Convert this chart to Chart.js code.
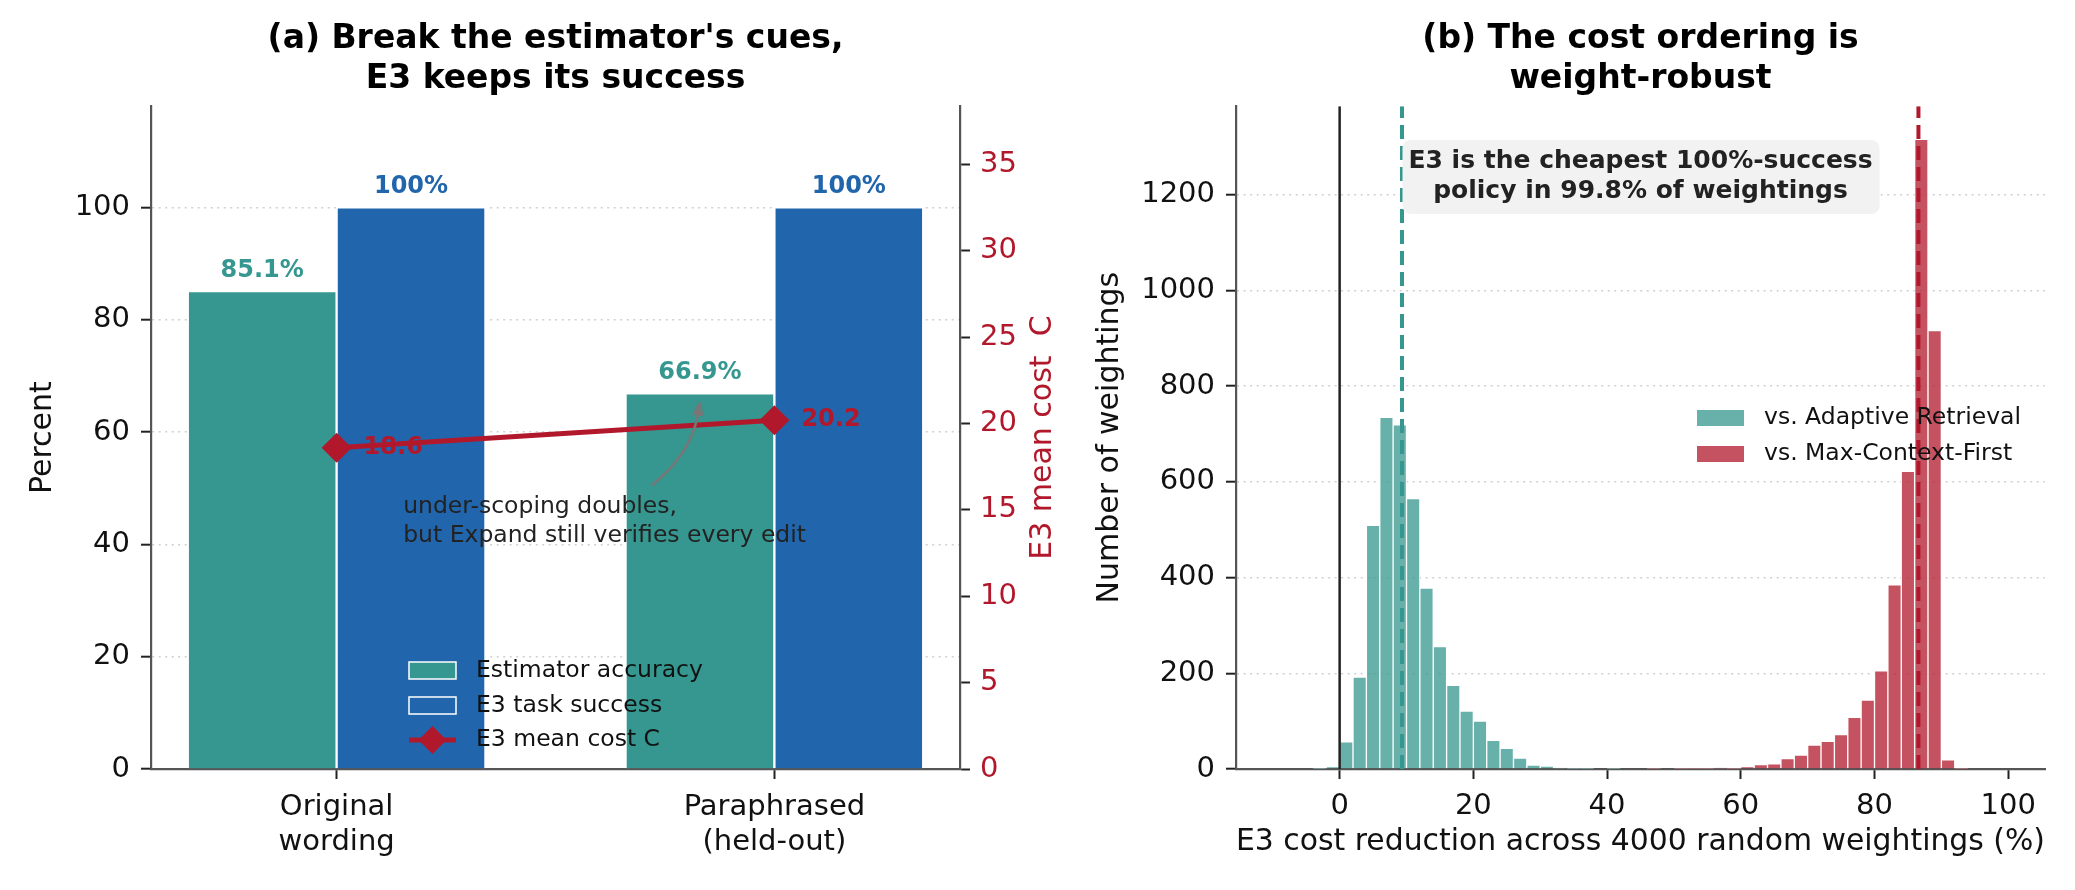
<!DOCTYPE html>
<html lang="en">
  <head>
    <meta charset="utf-8">
    <script src="https://cdn.jsdelivr.net/npm/chart.js"></script>
    <title>E3 robustness</title>
    <style>
      body { margin: 0; background: #fff; }
      #wrap { position: relative; width: 2075px; height: 890px; }
      canvas { position: absolute; top: 0; }
      #left { left: 0; }
      #right { left: 1075px; }
    </style>
  </head>
  <body>
    <div id="wrap">
      <canvas id="left" width="1075" height="890"></canvas>
      <canvas id="right" width="1000" height="890"></canvas>
    </div>
  <script>
    // ---- panel (a) data ----
    const conditions = [['Original', 'wording'], ['Paraphrased', '(held-out)']];
    const estimatorAccuracy = [85.1, 66.9];
    const taskSuccess = [100, 100];
    const meanCost = [18.6, 20.2];
    const percentTicks = [0, 20, 40, 60, 80, 100];
    const costTicks = [0, 5, 10, 15, 20, 25, 30, 35];

    // ---- panel (b) data: histogram bins of width 2, given by their centres ----
    const binCentres = [-9, -7, -5, -3, -1, 1, 3, 5, 7, 9, 11, 13, 15, 17, 19, 21, 23, 25, 27, 29,
      31, 33, 35, 37, 39, 41, 43, 45, 47, 49, 51, 53, 55, 57, 59, 61, 63, 65, 67, 69,
      71, 73, 75, 77, 79, 81, 83, 85, 87, 89, 91, 93, 95, 97, 99];
    const vsAdaptive = [0, 0, 0, 1, 4, 57, 192, 509, 735, 719, 565, 378, 256, 175, 121, 100, 60, 43, 23, 8,
      6, 2, 1, 1, 0, 1, 0, 0, 0, 0, 0, 0, 0, 0, 0, 0, 0, 0, 0, 0,
      0, 0, 0, 0, 0, 0, 0, 0, 0, 0, 0, 0, 0, 0, 0];
    const vsMaxContext = [0, 0, 0, 0, 0, 0, 0, 0, 0, 0, 0, 0, 0, 0, 0, 0, 0, 0, 0, 0,
      0, 0, 0, 0, 0, 0, 0, 0, 1, 0, 1, 1, 1, 2, 1, 4, 9, 11, 22, 29,
      50, 58, 72, 108, 144, 205, 385, 622, 1316, 916, 19, 1, 0, 0, 0];
    const medianAdaptive = 9.33;
    const medianMaxContext = 86.57;
    const reductionTicks = [0, 20, 40, 60, 80, 100];
    const countTicks = [0, 200, 400, 600, 800, 1000, 1200];

    const TEAL = '#35978f', BLUE = '#2166ac', RED = '#b2182b';
    const TEAL_A = 'rgba(53,151,143,0.75)', RED_A = 'rgba(178,24,43,0.75)';
    const FONT = '"DejaVu Sans", sans-serif';
    Chart.defaults.font.family = FONT;
    Chart.defaults.color = '#111';

    const BAR_W = 0.34;
    const COUNT_MAX = 1385;

    const fixedTicks = values => scale => { scale.ticks = values.map(v => ({value: v})); };
    const fixWidth = w => scale => { scale.width = w; };
    const fixHeight = h => scale => { scale.height = h; };
    const plain = v => String(v);

    const spine = {color: '#555', width: 2.2};
    const tickMarks = {tickLength: 10, tickWidth: 2, tickColor: '#222'};
    const dotted = {color: '#d0d0d0', lineWidth: 1.4, ...tickMarks};
    const titleFont = {size: 33, weight: 'bold', lineHeight: 1.2};

    function roundBox(ctx, x, y, w, h, r) {
      ctx.beginPath();
      ctx.moveTo(x + r, y);
      ctx.arcTo(x + w, y, x + w, y + h, r);
      ctx.arcTo(x + w, y + h, x, y + h, r);
      ctx.arcTo(x, y + h, x, y, r);
      ctx.arcTo(x, y, x + w, y, r);
      ctx.closePath();
    }

    function diamond(ctx, x, y, r) {
      ctx.beginPath();
      ctx.moveTo(x, y - r); ctx.lineTo(x + r, y); ctx.lineTo(x, y + r); ctx.lineTo(x - r, y);
      ctx.closePath();
      ctx.fill();
    }

    // labels, annotation and legend for panel (a)
    const panelA = {
      id: 'panelA',
      afterDatasetsDraw(chart) {
        const ctx = chart.ctx;
        const xs = chart.scales.x, ys = chart.scales.y;
        const ca = chart.chartArea;
        ctx.save();
        ctx.font = 'bold 24px ' + FONT;
        ctx.textAlign = 'center';
        ctx.textBaseline = 'alphabetic';
        chart.getDatasetMeta(0).data.forEach((bar, i) => {
          ctx.fillStyle = TEAL;
          ctx.fillText(estimatorAccuracy[i].toFixed(1) + '%', bar.x, bar.y - 14);
        });
        chart.getDatasetMeta(1).data.forEach((bar, i) => {
          ctx.fillStyle = BLUE;
          ctx.fillText(taskSuccess[i] + '%', bar.x, bar.y - 14);
        });
        ctx.textAlign = 'left';
        ctx.textBaseline = 'middle';
        ctx.fillStyle = RED;
        chart.getDatasetMeta(2).data.forEach((pt, i) => {
          ctx.fillText(meanCost[i].toFixed(1), pt.x + 27, pt.y);
        });

        // annotation with curved arrow
        const from = {x: xs.getPixelForValue(0.72), y: ys.getPixelForValue(50.5)};
        const to = {x: xs.getPixelForValue(0.83), y: ys.getPixelForValue(65.6)};
        const mx = (from.x + to.x) / 2, my = (from.y + to.y) / 2;
        const dx = to.x - from.x, dy = to.y - from.y;
        const cx = mx - 0.2 * dy, cy = my + 0.2 * dx;
        const ang = Math.atan2(to.y - cy, to.x - cx);
        ctx.strokeStyle = '#777';
        ctx.fillStyle = '#777';
        ctx.lineWidth = 2.6;
        ctx.beginPath();
        ctx.moveTo(from.x, from.y);
        ctx.quadraticCurveTo(cx, cy, to.x - 10 * Math.cos(ang), to.y - 10 * Math.sin(ang));
        ctx.stroke();
        ctx.beginPath();
        ctx.moveTo(to.x, to.y);
        ctx.lineTo(to.x - 15 * Math.cos(ang) + 6 * Math.sin(ang), to.y - 15 * Math.sin(ang) - 6 * Math.cos(ang));
        ctx.lineTo(to.x - 15 * Math.cos(ang) - 6 * Math.sin(ang), to.y - 15 * Math.sin(ang) + 6 * Math.cos(ang));
        ctx.closePath();
        ctx.fill();

        ctx.font = '23.5px ' + FONT;
        ctx.fillStyle = '#222';
        const nx = xs.getPixelForValue(0.152), ny = ys.getPixelForValue(46.6);
        ctx.fillText('under-scoping doubles,', nx, ny);
        ctx.fillText('but Expand still verifies every edit', nx, ny + 28.5);

        // legend
        const lx = 409, lw = 47, tx = 476;
        const rows = [670.5, 705.5, 740];
        [TEAL, BLUE].forEach((c, i) => {
          ctx.fillStyle = c;
          ctx.fillRect(lx, rows[i] - 8.5, lw, 17);
          ctx.strokeStyle = '#fff';
          ctx.lineWidth = 1.5;
          ctx.strokeRect(lx, rows[i] - 8.5, lw, 17);
        });
        ctx.strokeStyle = RED;
        ctx.lineWidth = 5;
        ctx.beginPath();
        ctx.moveTo(lx, rows[2]); ctx.lineTo(lx + lw, rows[2]);
        ctx.stroke();
        ctx.fillStyle = RED;
        diamond(ctx, lx + lw / 2, rows[2], 14);
        ctx.fillStyle = '#111';
        ctx.fillText('Estimator accuracy', tx, rows[0]);
        ctx.fillText('E3 task success', tx, rows[1]);
        ctx.fillText('E3 mean cost C', tx, rows[2]);

        // right axis title, reading bottom to top
        ctx.translate(chart.width - 32, (ca.top + ca.bottom) / 2);
        ctx.rotate(-Math.PI / 2);
        ctx.font = '30px ' + FONT;
        ctx.textAlign = 'center';
        ctx.fillStyle = RED;
        ctx.fillText('E3 mean cost  C', 0, 0);
        ctx.restore();
      }
    };

    // legend and text box for panel (b)
    const panelB = {
      id: 'panelB',
      afterDatasetsDraw(chart) {
        const ctx = chart.ctx;
        const ca = chart.chartArea;
        const mid = (ca.left + ca.right) / 2;
        ctx.save();
        ctx.fillStyle = '#f2f2f2';
        roundBox(ctx, mid - 238, 140, 477, 74, 8);
        ctx.fill();
        ctx.fillStyle = '#222';
        ctx.font = 'bold 25px ' + FONT;
        ctx.textAlign = 'center';
        ctx.textBaseline = 'middle';
        ctx.fillText('E3 is the cheapest 100%-success', mid, 161);
        ctx.fillText('policy in 99.8% of weightings', mid, 191);

        const lx = 622, lw = 47, tx = 689;
        const rows = [418, 454];
        [TEAL_A, RED_A].forEach((c, i) => {
          ctx.fillStyle = c;
          ctx.fillRect(lx, rows[i] - 8, lw, 16);
        });
        ctx.font = '23.5px ' + FONT;
        ctx.textAlign = 'left';
        ctx.fillStyle = '#111';
        ctx.fillText('vs. Adaptive Retrieval', tx, rows[0]);
        ctx.fillText('vs. Max-Context-First', tx, rows[1]);
        ctx.restore();
      }
    };

    const barStyle = {borderColor: '#fff', grouped: false, barPercentage: 1, categoryPercentage: 1};

    new Chart(document.getElementById('left'), {
      type: 'bar',
      data: {
        datasets: [
          {label: 'Estimator accuracy', ...barStyle, borderWidth: 1.5, backgroundColor: TEAL, order: 2,
           data: conditions.map((c, i) => ({x: i - BAR_W / 2, y: estimatorAccuracy[i]}))},
          {label: 'E3 task success', ...barStyle, borderWidth: 1.5, backgroundColor: BLUE, order: 2,
           data: conditions.map((c, i) => ({x: i + BAR_W / 2, y: taskSuccess[i]}))},
          {type: 'line', label: 'E3 mean cost C', yAxisID: 'y1', order: 1,
           data: conditions.map((c, i) => ({x: i, y: meanCost[i]})),
           borderColor: RED, borderWidth: 5, pointStyle: 'rectRot', pointRadius: 15,
           pointBackgroundColor: RED, pointBorderWidth: 0}
        ]
      },
      options: {
        responsive: false,
        animation: false,
        layout: {padding: 0},
        plugins: {
          legend: {display: false},
          tooltip: {enabled: false},
          title: {display: true, fullSize: false, color: '#000', font: titleFont,
                  padding: {top: 20, bottom: 7},
                  text: ["(a) Break the estimator's cues,", 'E3 keeps its success']}
        },
        scales: {
          x: {type: 'linear', min: -0.424, max: 1.424, offset: false,
              afterBuildTicks: fixedTicks([0, 1]), afterFit: fixHeight(121),
              ticks: {callback: v => conditions[v], font: {size: 29, lineHeight: 1.24}, padding: 10,
                      maxRotation: 0, autoSkip: false},
              grid: {drawOnChartArea: false, offset: false, ...tickMarks}, border: spine},
          y: {position: 'left', min: 0, max: 118,
              afterBuildTicks: fixedTicks(percentTicks), afterFit: fixWidth(151),
              ticks: {font: {size: 29}, padding: 11, callback: plain},
              grid: dotted, border: {dash: [2, 4.5], ...spine},
              title: {display: true, text: 'Percent', font: {size: 30, lineHeight: 1.2},
                      padding: {top: 25, bottom: 0}}},
          y1: {position: 'right', min: 0, max: 38.38,
               afterBuildTicks: fixedTicks(costTicks), afterFit: fixWidth(115),
               ticks: {font: {size: 29}, padding: 10, color: RED, callback: plain},
               grid: {drawOnChartArea: false, ...tickMarks}, border: spine}
        }
      },
      plugins: [panelA]
    });

    new Chart(document.getElementById('right'), {
      type: 'bar',
      data: {
        datasets: [
          {label: 'vs. Adaptive Retrieval', ...barStyle, borderWidth: 1, backgroundColor: TEAL_A, order: 3,
           data: binCentres.map((c, i) => ({x: c, y: vsAdaptive[i]}))},
          {label: 'vs. Max-Context-First', ...barStyle, borderWidth: 1, backgroundColor: RED_A, order: 2,
           data: binCentres.map((c, i) => ({x: c, y: vsMaxContext[i]}))},
          {type: 'line', order: 1, data: [{x: 0, y: 0}, {x: 0, y: COUNT_MAX}],
           borderColor: '#222', borderWidth: 2.5, pointRadius: 0},
          {type: 'line', order: 1, data: [{x: medianAdaptive, y: 0}, {x: medianAdaptive, y: COUNT_MAX}],
           borderColor: TEAL, borderWidth: 4, borderDash: [14, 7], pointRadius: 0},
          {type: 'line', order: 1, data: [{x: medianMaxContext, y: 0}, {x: medianMaxContext, y: COUNT_MAX}],
           borderColor: RED, borderWidth: 4, borderDash: [14, 7], pointRadius: 0}
        ]
      },
      options: {
        responsive: false,
        animation: false,
        layout: {padding: {left: 0, right: 30, top: 0, bottom: 0}},
        plugins: {
          legend: {display: false},
          tooltip: {enabled: false},
          title: {display: true, fullSize: false, color: '#000', font: titleFont,
                  padding: {top: 20, bottom: 7},
                  text: ['(b) The cost ordering is', 'weight-robust']}
        },
        scales: {
          x: {type: 'linear', min: -15.5, max: 105.5, offset: false,
              afterBuildTicks: fixedTicks(reductionTicks), afterFit: fixHeight(121),
              ticks: {font: {size: 29}, padding: 10, maxRotation: 0, callback: plain},
              grid: {drawOnChartArea: false, offset: false, ...tickMarks}, border: spine,
              title: {display: true, text: 'E3 cost reduction across 4000 random weightings (%)',
                      font: {size: 30, lineHeight: 1.2}, padding: {top: 0, bottom: 30}}},
          y: {position: 'left', min: 0, max: COUNT_MAX,
              afterBuildTicks: fixedTicks(countTicks), afterFit: fixWidth(161),
              ticks: {font: {size: 29}, padding: 11, callback: plain},
              grid: dotted, border: {dash: [2, 4.5], ...spine},
              title: {display: true, text: 'Number of weightings', font: {size: 30, lineHeight: 1.2},
                      padding: {top: 17, bottom: 0}}}
        }
      },
      plugins: [panelB]
    });
  </script>
  </body>
</html>
